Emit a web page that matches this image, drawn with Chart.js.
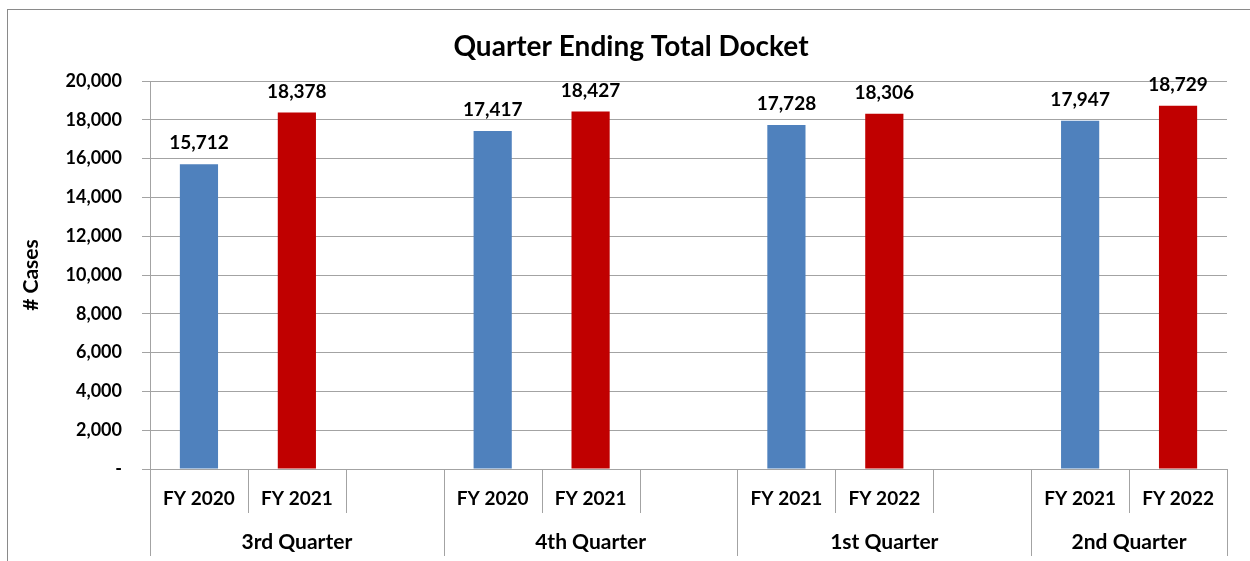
<!DOCTYPE html>
<html>
<head>
<meta charset="utf-8">
<script src="https://cdn.jsdelivr.net/npm/chart.js@4.4.0/dist/chart.umd.min.js"></script>
<style>
  html, body { margin:0; padding:0; background:#fff; overflow:hidden; }
  #frame { position:absolute; left:7px; top:9px; width:1260px; height:600px; border:1px solid #8a8a8a; }
  #wrap { position:absolute; left:0; top:0; width:1250px; height:561px; }
</style>
</head>
<body>
<div id="frame"></div>
<div id="wrap"><canvas id="chart"></canvas></div>
<script>
const $ = sel => document.querySelector(sel);

/* ============ DATA ============== */
const quarters     = ["3rd Quarter", "4th Quarter", "1st Quarter", "2nd Quarter"];
const firstYears   = ["FY 2020", "FY 2020", "FY 2021", "FY 2021"];
const secondYears  = ["FY 2021", "FY 2021", "FY 2022", "FY 2022"];
const firstValues  = [15712, 17417, 17728, 17947];
const secondValues = [18378, 18427, 18306, 18729];
const yMax = 20000, yStep = 2000;

const FONT = "Lato";
const GRID = "#a3a3a3";

// slots per quarter: earlier FY, later FY, then an empty gap (none after the last quarter)
const labels = [], blueData = [], redData = [], groupStarts = [];
quarters.forEach((q, i) => {
  groupStarts.push(labels.length);
  labels.push(firstYears[i], secondYears[i]);
  blueData.push(firstValues[i], null);
  redData.push(null, secondValues[i]);
  if (i < quarters.length - 1){
    labels.push("");
    blueData.push(null);
    redData.push(null);
  }
});

const fmt = v => v.toLocaleString("en-US");

/* ============ PLUGINS ============== */
const valueLabels = {
  id: "valueLabels",
  afterDatasetsDraw(chart){
    const ctx = chart.ctx;
    ctx.save();
    ctx.font = "bold 19px " + FONT;
    ctx.fillStyle = "#000";
    ctx.textAlign = "center";
    ctx.textBaseline = "middle";
    chart.data.datasets.forEach((ds, di) => {
      chart.getDatasetMeta(di).data.forEach((bar, i) => {
        if (ds.data[i] == null) return;
        ctx.fillText(fmt(ds.data[i]), bar.x, bar.y - 21);
      });
    });
    ctx.restore();
  }
};

const groupAxis = {
  id: "groupAxis",
  afterDraw(chart){
    const ctx = chart.ctx, x = chart.scales.x, area = chart.chartArea;
    const n = labels.length;
    const half = (x.getPixelForTick(1) - x.getPixelForTick(0)) / 2;
    ctx.save();
    ctx.strokeStyle = GRID;
    ctx.lineWidth = 1;
    for (let i = 0; i <= n; i++){
      const px = Math.round(i < n ? x.getPixelForTick(i) - half : x.getPixelForTick(n - 1) + half) + 0.5;
      const long = i === n || groupStarts.includes(i);
      ctx.beginPath();
      ctx.moveTo(px, area.bottom);
      ctx.lineTo(px, area.bottom + (long ? 87 : 44));
      ctx.stroke();
    }
    ctx.font = "bold 21px " + FONT;
    ctx.fillStyle = "#000";
    ctx.textAlign = "center";
    ctx.textBaseline = "middle";
    quarters.forEach((q, g) => {
      const s = groupStarts[g];
      const cx = (x.getPixelForTick(s) - half + x.getPixelForTick(s + 1) + half + (g < quarters.length - 1 ? 2 * half : 0)) / 2;
      ctx.fillText(q, cx, area.bottom + 73);
    });
    ctx.restore();
  }
};

/* ============ CHART ============== */
new Chart($("#chart"), {
  type: "bar",
  data: {
    labels,
    datasets: [
      { data: blueData, backgroundColor: "#4f81bd" },
      { data: redData,  backgroundColor: "#c00000" }
    ]
  },
  options: {
    responsive: true,
    maintainAspectRatio: false,
    animation: false,
    grouped: false,
    barPercentage: 0.39,
    categoryPercentage: 1,
    layout: { padding: { left: 35, top: 10, right: 23, bottom: 0 } },
    plugins: {
      legend: { display: false },
      tooltip: { enabled: false },
      title: {
        display: true,
        text: "Quarter Ending Total Docket",
        color: "#000",
        font: { family: FONT, size: 28, weight: "bold", lineHeight: 1.2 },
        padding: { top: 20, bottom: 17.4 }
      }
    },
    scales: {
      x: {
        grid: { display: false },
        border: { display: true, color: GRID },
        ticks: {
          color: "#000",
          font: { family: FONT, size: 19, weight: "bold" },
          padding: 10,
          maxRotation: 0,
          autoSkip: false
        },
        afterFit: s => { s.height = 92; }
      },
      y: {
        min: 0,
        max: yMax,
        grid: { color: GRID, tickLength: 8 },
        border: { display: true, color: GRID },
        ticks: {
          stepSize: yStep,
          color: "#000",
          padding: 20,
          font: { family: FONT, size: 18, weight: "bold" },
          callback: v => v === 0 ? "-" : fmt(v)
        },
        title: {
          display: true,
          text: "# Cases",
          color: "#000",
          font: { family: FONT, size: 21, weight: "bold", lineHeight: 1.2 },
          padding: { top: -16.6, bottom: 0 }
        },
        afterFit: s => { s.width = 115; }
      }
    }
  },
  plugins: [valueLabels, groupAxis]
});
</script>
</body>
</html>
